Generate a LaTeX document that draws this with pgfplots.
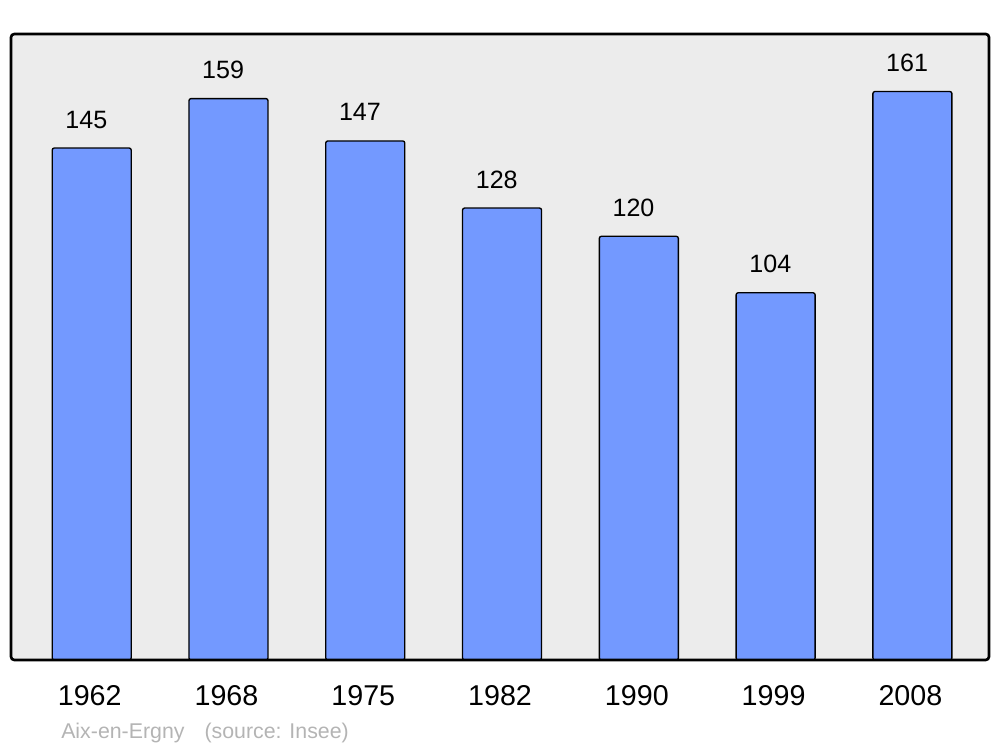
\documentclass[border=0pt]{standalone}
\usepackage{fontspec}
\setmainfont{Liberation Sans}
\usepackage{pgfplots}
\pgfplotsset{compat=1.18}
\definecolor{barblue}{RGB}{115,153,255}
\definecolor{bgray}{RGB}{236,236,236}
\definecolor{foot}{RGB}{180,180,180}
\begin{document}
\begin{tikzpicture}
\useasboundingbox (0,0) rectangle (750pt,560.25pt);
\fill[bgray, rounded corners=2.5pt] (8.25pt,65.25pt) rectangle (741.75pt,534.75pt);
\begin{axis}[
  at={(8.25pt,65.25pt)}, anchor=south west,
  scale only axis, width=733.5pt, height=469.5pt,
  xmin=-0.59, xmax=6.56, ymin=0, ymax=177.3,
  axis line style={draw=none},
  hide y axis,
  axis x line*=box,
  xtick=data, xticklabels={1962,1968,1975,1982,1990,1999,2008},
  major tick length=0pt,
  /pgf/number format/assume math mode=true,
  xticklabel style={font=\fontsize{21.5pt}{24pt}\selectfont, anchor=base, yshift=-33.75pt, xshift=-1.5pt, inner sep=0pt},
  ybar, bar width=59.25pt,
  nodes near coords,
  every node near coord/.append style={font=\fontsize{18.8pt}{22pt}\selectfont, anchor=base, inner sep=0pt, yshift=15pt, xshift=-4pt},
  clip=false,
]
\addplot[fill=barblue, draw=black, line width=1pt, rounded corners=1.5pt] coordinates {(0,145) (1,159) (2,147) (3,128) (4,120) (5,104) (6,161)};
\end{axis}
\draw[line width=2pt, rounded corners=2.5pt] (8.25pt,65.25pt) rectangle (741.75pt,534.75pt);
\node[anchor=base west, inner sep=0pt, text=foot, font=\fontsize{16pt}{19pt}\selectfont] at (45.75pt,6.75pt) {Aix-en-Ergny\hspace{15pt}(source: Insee)};
\end{tikzpicture}
\end{document}
